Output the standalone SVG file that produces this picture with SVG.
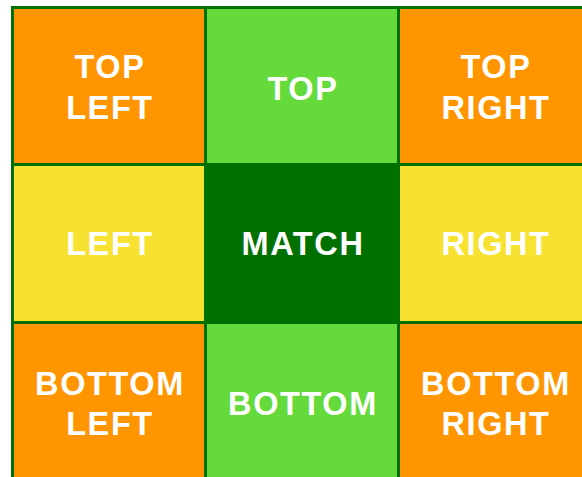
<svg xmlns="http://www.w3.org/2000/svg" width="582" height="477" viewBox="0 0 582 477">
<style>
.t{font-family:"Liberation Sans",Arial,sans-serif;font-weight:bold;font-size:32.5px;letter-spacing:1.6px;fill:#ffffff;text-anchor:middle}
.o{fill:#FF9500}.g{fill:#65DA3B}.y{fill:#F8E231}.d{fill:#007000}
</style>
<rect x="0" y="0" width="582" height="477" fill="#ffffff"/>
<g id="grid"><rect x="11" y="6" width="590" height="490" fill="#007000"/></g>
<g id="top-left"><rect class="o" x="14" y="9" width="190" height="154"/><text class="t" x="110" y="78">TOP</text><text class="t" x="110" y="119">LEFT</text></g>
<g id="top"><rect class="g" x="207" y="9" width="190" height="154"/><text class="t" x="303" y="100">TOP</text></g>
<g id="top-right"><rect class="o" x="400" y="9" width="190" height="154"/><text class="t" x="496" y="78">TOP</text><text class="t" x="496" y="119">RIGHT</text></g>
<g id="left"><rect class="y" x="14" y="166" width="190" height="155"/><text class="t" x="110" y="255">LEFT</text></g>
<g id="match"><rect class="d" x="207" y="166" width="190" height="155"/><text class="t" x="303" y="255">MATCH</text></g>
<g id="right"><rect class="y" x="400" y="166" width="190" height="155"/><text class="t" x="496" y="255">RIGHT</text></g>
<g id="bottom-left"><rect class="o" x="14" y="324" width="190" height="160"/><text class="t" x="110" y="395">BOTTOM</text><text class="t" x="110" y="435">LEFT</text></g>
<g id="bottom"><rect class="g" x="207" y="324" width="190" height="160"/><text class="t" x="303" y="415">BOTTOM</text></g>
<g id="bottom-right"><rect class="o" x="400" y="324" width="190" height="160"/><text class="t" x="496" y="395">BOTTOM</text><text class="t" x="496" y="435">RIGHT</text></g>
<g id="connectors"></g>
</svg>
